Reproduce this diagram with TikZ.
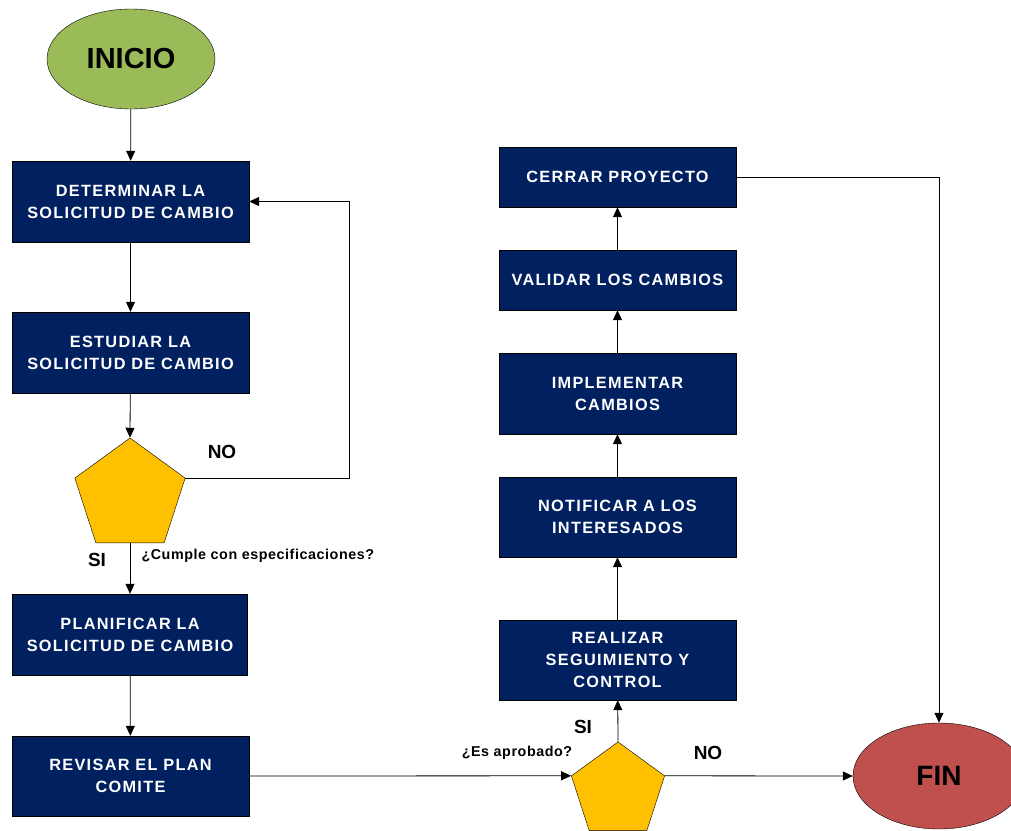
\documentclass[tikz,border=0pt]{standalone}
\usepackage{fontspec}
\setmainfont{Liberation Sans}
\newfontfamily\caja[LetterSpace=8]{Liberation Sans}
\newfontfamily\etiq[LetterSpace=4]{Liberation Sans}
\usetikzlibrary{shapes.geometric,arrows.meta}
\definecolor{azul}{RGB}{0,32,96}
\definecolor{verde}{RGB}{155,187,89}
\definecolor{amarillo}{RGB}{255,192,0}
\definecolor{rojo}{RGB}{192,80,77}

\begin{document}
\begin{tikzpicture}[x=1pt,y=-1pt,
		paso/.style={draw=black,fill=azul,text=white,font=\caja\bfseries\fontsize{16.3}{22}\selectfont,align=center,minimum width=237pt,minimum height=81pt,inner sep=0pt},
		decision/.style={draw=black,fill=amarillo,regular polygon,regular polygon sides=5,inner sep=0pt},
		flecha/.style={-{Triangle[length=10pt,width=9pt]},line width=0.8pt},
		rotulo/.style={font=\bfseries\fontsize{19}{22}\selectfont},
		pregunta/.style={font=\etiq\bfseries\fontsize{14.3}{16}\selectfont}]
		\useasboundingbox (0,0) rectangle (1011,830);
		\node[ellipse,draw=black,fill=verde,minimum width=168pt,minimum height=100pt,font=\bfseries\fontsize{29}{30}\selectfont] (INI) at (131,59) {INICIO};
		\node[paso] (DET) at (130.5,201.5) {DETERMINAR LA\\SOLICITUD DE CAMBIO};
		\node[paso] (EST) at (130.5,352.5) {ESTUDIAR LA\\SOLICITUD DE CAMBIO};
		\node[decision,minimum size=116pt] (P1) at (130,496) {};
		\node[paso,minimum width=235pt] (PLA) at (130,634.5) {PLANIFICAR LA\\SOLICITUD DE CAMBIO};
		\node[paso,minimum height=80pt] (REV) at (130.5,776) {REVISAR EL PLAN\\COMITE};
		\node[decision,minimum size=98pt] (P2) at (618,791) {};
		\node[paso,minimum height=80pt] (REA) at (617.5,660) {REALIZAR\\SEGUIMIENTO Y\\CONTROL};
		\node[paso,minimum height=80pt] (NOT) at (617.5,517) {NOTIFICAR A LOS\\INTERESADOS};
		\node[paso] (IMP) at (617.5,393.5) {IMPLEMENTAR\\CAMBIOS};
		\node[paso,minimum height=60pt] (VAL) at (617.5,280) {VALIDAR LOS CAMBIOS};
		\node[paso,minimum height=60pt] (CER) at (617.5,177) {CERRAR PROYECTO};
		\node[ellipse,draw=black,fill=rojo,minimum width=172pt,minimum height=106pt,font=\bfseries\fontsize{28}{30}\selectfont] (FIN) at (939,776) {FIN};
		\draw[flecha] (INI) -- (DET);
		\draw[flecha] (DET) -- (EST);
		\draw[flecha] (EST) -- (P1.corner 1);
		\draw[flecha] (P1.corner 5) -| ([xshift=100pt]DET.east) -- (DET.east);
		\draw[flecha] (P1.south) -- (PLA);
		\draw[flecha] (PLA) -- (REV);
		\draw[flecha] (REV.east) -- (P2.corner 2);
		\draw[flecha] (P2.corner 1) -- (REA);
		\draw[flecha] (REA) -- (NOT);
		\draw[flecha] (NOT) -- (IMP);
		\draw[flecha] (IMP) -- (VAL);
		\draw[flecha] (VAL) -- (CER);
		\draw[flecha] (CER.east) -| (FIN.north);
		\draw[flecha] (P2.corner 5) -- (FIN.west);
		\node[rotulo] (NO1) at (222,452) {NO};
		\node[rotulo] (SI1) at (97,560) {SI};
		\node[pregunta,anchor=west] (Q1) at (138,556) {¿Cumple con especificaciones?};
		\node[pregunta] (Q2) at (517,753) {¿Es aprobado?};
		\node[rotulo] (SI2) at (583,727) {SI};
		\node[rotulo] (NO2) at (708,753) {NO};
\end{tikzpicture}
\end{document}
